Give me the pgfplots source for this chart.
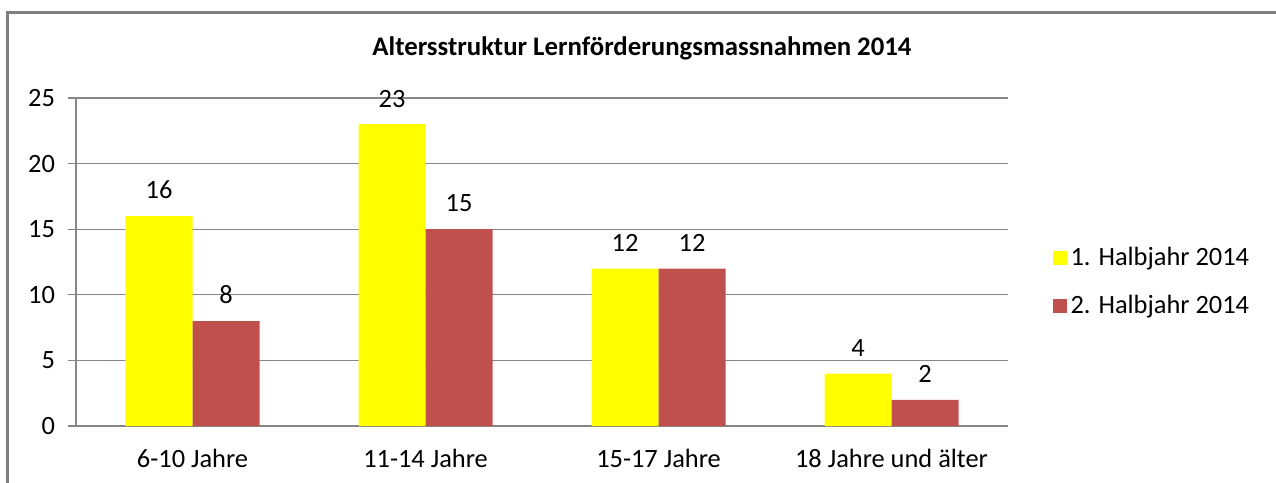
\documentclass[border=0pt]{standalone}
\usepackage{fontspec}
\setmainfont{Carlito}
\usepackage{pgfplots}
\pgfplotsset{compat=1.18}
\definecolor{cYel}{HTML}{FFFF00}
\definecolor{cRed}{HTML}{C0504D}
\definecolor{cAx}{HTML}{868686}
\definecolor{cBord}{HTML}{7F7F7F}

\begin{document}
\begin{tikzpicture}
\useasboundingbox (0bp,0bp) rectangle (638bp,241.5bp);
% frame (only left and top visible)
\draw[cBord, line width=1.2bp] (3.75bp,0bp) -- (3.75bp,235.25bp) -- (638bp,235.25bp);

\node[font=\fontsize{13.4bp}{16bp}\selectfont\bfseries] at (321bp,217.5bp)
  {Altersstruktur Lernförderungsmassnahmen 2014};

\begin{axis}[
  at={(38bp,28.5bp)}, anchor=origin,
  scale only axis,
  width=466bp, height=164bp,
  xmin=0, xmax=4,
  ymin=0, ymax=25,
  ytick={0,5,10,15,20,25},
  ymajorgrids,
  grid style={cAx, line width=0.6bp},
  axis x line*=bottom, axis y line*=left,
  axis line style={cAx, line width=0.6bp},
  every tick/.style={cAx, line width=0.6bp},
  tick align=outside,
  major tick length=4bp,
  xtick={0.5,1.5,2.5,3.5},
  xticklabels={6-10 Jahre, 11-14 Jahre, 15-17 Jahre, 18 Jahre und älter},
  xtick style={draw=none},
  extra x ticks={0,1,2,3,4},
  extra x tick labels={},
  extra x tick style={xtick style={cAx, line width=0.6bp}},
  /pgf/number format/assume math mode=true,
  tick label style={font=\fontsize{13.2bp}{16bp}\selectfont, black},
  yticklabel style={xshift=-3bp},
  xticklabel style={yshift=-4bp},
  ybar=0pt,
  bar width=33.5bp,
  nodes near coords,
  every node near coord/.append style={font=\fontsize{13.2bp}{16bp}\selectfont, black, yshift=5bp},
  legend style={at={(rel axis cs:1.041,0.44)}, anchor=west, draw=none, fill=none,
    font=\fontsize{13.2bp}{16bp}\selectfont, row sep=9.5bp},
  legend cell align=left,
  legend image code/.code={\fill[#1] (0bp,-3.5bp) rectangle (7bp,3.5bp);},
]
\addplot[fill=cYel, draw=none] coordinates {(0.5,16) (1.5,23) (2.5,12) (3.5,4)};
\addlegendentry{1. Halbjahr 2014}
\addplot[fill=cRed, draw=none] coordinates {(0.5,8) (1.5,15) (2.5,12) (3.5,2)};
\addlegendentry{2. Halbjahr 2014}
\end{axis}
\end{tikzpicture}
\end{document}
